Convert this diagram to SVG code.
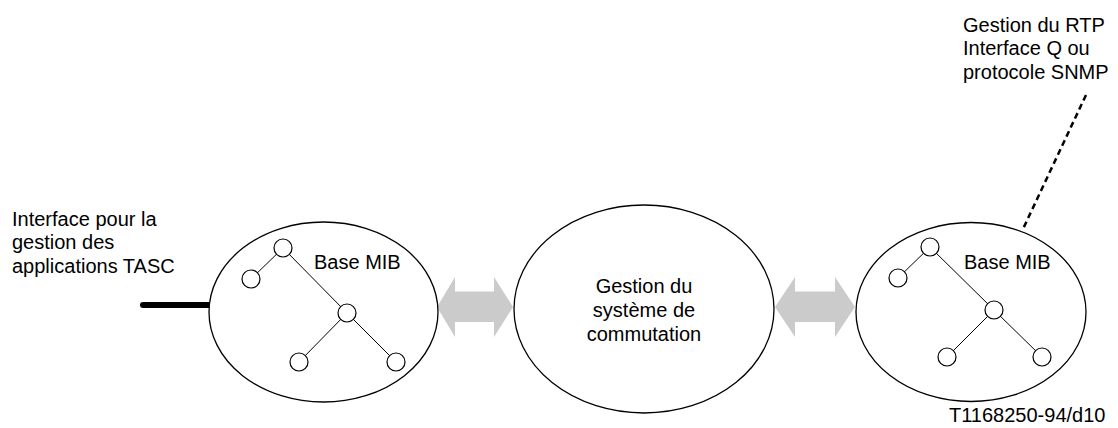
<svg xmlns="http://www.w3.org/2000/svg" width="1118" height="428" viewBox="0 0 1118 428">
<style>
text{font-family:"Liberation Sans",Arial,sans-serif;font-size:20px;fill:#000}
.ell{fill:#fff;stroke:#000;stroke-width:1.3}
.nd{fill:#fff;stroke:#000;stroke-width:1.2}
.tl{stroke:#000;stroke-width:1;fill:none}
.arr{fill:#cbcbcb;stroke:none}
</style>
<rect width="1118" height="428" fill="#fff"/>
<g id="connectors">
<line x1="143" y1="305" x2="210" y2="305" stroke="#000" stroke-width="6" stroke-linecap="round"/>
<polygon class="arr" points="437,307 455,277 455,291.5 494,291.5 494,277 513,307 494,337 494,322 455,322 455,337"/>
<polygon class="arr" points="775,307 795,277 795,291.5 835,291.5 835,277 855,307 835,337 835,322 795,322 795,337"/>
<line x1="1086" y1="95" x2="1023" y2="229" stroke="#000" stroke-width="2.5" stroke-dasharray="6,4"/>
</g>
<g id="mib-left">
<ellipse class="ell" cx="323.5" cy="312" rx="114.5" ry="90"/>
<line class="tl" x1="283" y1="248" x2="251" y2="279"/>
<line class="tl" x1="283" y1="248" x2="347" y2="313"/>
<line class="tl" x1="347" y1="313" x2="299" y2="362"/>
<line class="tl" x1="347" y1="313" x2="396" y2="362"/>
<circle class="nd" cx="283" cy="248" r="9"/>
<circle class="nd" cx="251" cy="279" r="9"/>
<circle class="nd" cx="347" cy="313" r="9"/>
<circle class="nd" cx="299" cy="362" r="9"/>
<circle class="nd" cx="396" cy="362" r="9"/>
<text x="314" y="269">Base MIB</text>
</g>
<g id="switching">
<ellipse class="ell" cx="644" cy="309" rx="130" ry="104"/>
<text x="644" y="293" text-anchor="middle">Gestion du</text>
<text x="644" y="317" text-anchor="middle">système de</text>
<text x="644" y="341" text-anchor="middle">commutation</text>
</g>
<g id="mib-right">
<ellipse class="ell" cx="971" cy="312" rx="115" ry="89.5"/>
<line class="tl" x1="930" y1="247" x2="898" y2="278"/>
<line class="tl" x1="930" y1="247" x2="994" y2="310"/>
<line class="tl" x1="994" y1="310" x2="947" y2="357"/>
<line class="tl" x1="994" y1="310" x2="1042" y2="357"/>
<circle class="nd" cx="930" cy="247" r="9"/>
<circle class="nd" cx="898" cy="278" r="9"/>
<circle class="nd" cx="994" cy="310" r="9"/>
<circle class="nd" cx="947" cy="357" r="9"/>
<circle class="nd" cx="1042" cy="357" r="9"/>
<text x="964" y="269">Base MIB</text>
</g>
<g id="label-tasc">
<text x="12" y="225.5">Interface pour la</text>
<text x="12" y="249">gestion des</text>
<text x="12" y="272.5">applications TASC</text>
</g>
<g id="label-rtp">
<text x="963" y="31.5">Gestion du RTP</text>
<text x="963" y="55.3">Interface Q ou</text>
<text x="963" y="79">protocole SNMP</text>
</g>
<text x="949" y="422">T1168250-94/d10</text>
</svg>
